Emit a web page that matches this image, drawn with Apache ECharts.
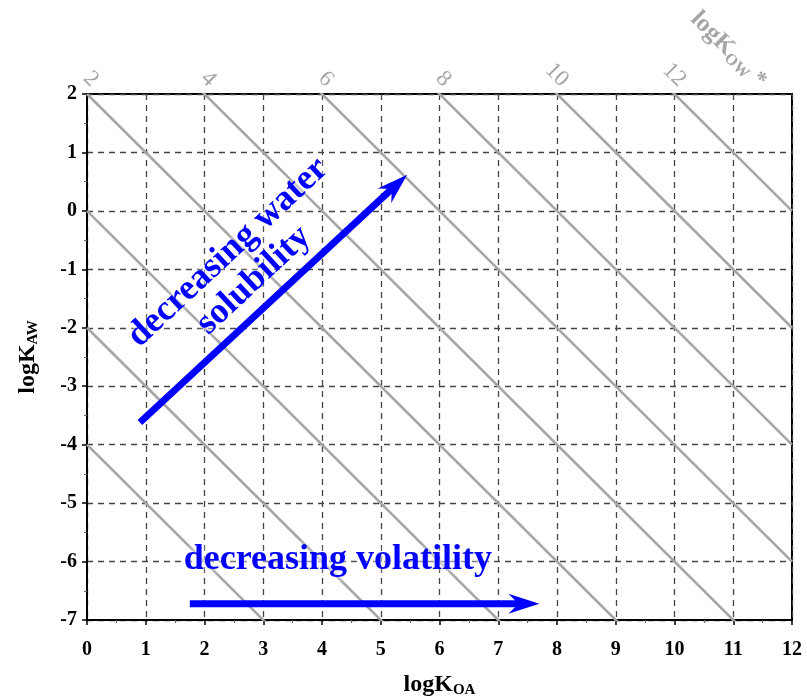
<!DOCTYPE html>
<html><head><meta charset="utf-8">
<script src="https://cdn.jsdelivr.net/npm/echarts@6/dist/echarts.min.js"></script>
<style>html,body{margin:0;padding:0;background:#fff}#c{width:807px;height:700px}</style>
</head><body><div id="c"></div>
<script>
// ---- data ----
const xTicks = [0,1,2,3,4,5,6,7,8,9,10,11,12];      // logKOA
const yTicks = [-7,-6,-5,-4,-3,-2,-1,0,1,2];        // logKAW
const isoKow = [-4,-2,0,2,4,6,8,10,12];             // logKOW iso-lines (logKOW = logKOA + logKAW)
const topKowLabels = [2,4,6,8,10,12];               // labelled logKOW values along top edge
const arrowSolubility = [0.9,-3.62,5.45,0.62];      // [x1,y1,x2,y2]
const arrowVolatility = [1.75,-6.72,7.7,-6.72];
const textSolubilityPos = [2.62,-0.95];
const textVolatilityPos = [4.27,-5.97];
const kowTitlePos = [11.3,2];

const serif = "'Liberation Serif', 'DejaVu Serif', serif";
const grey = '#a6a6a6';
const blue = '#0000ff';
const xMin = xTicks[0], xMax = xTicks[xTicks.length-1];
const yMin = yTicks[0], yMax = yTicks[yTicks.length-1];

const isoSeries = isoKow.map(k => ({
  type:'line', data:[[xMin, k - xMin],[xMax, k - xMax]], symbol:'none', clip:true,
  lineStyle:{color:grey, width:2.6}, silent:true, z:3, animation:false
}));

const nameRich = {a:{fontFamily:serif,fontWeight:'bold',fontSize:24,color:'#000'},
                  b:{fontFamily:serif,fontWeight:'bold',fontSize:15,color:'#000',verticalAlign:'bottom',padding:[11,0,0,0]}};

function renderArrow(params, api){
  const p1 = api.coord([api.value(0), api.value(1)]);
  const p2 = api.coord([api.value(2), api.value(3)]);
  const dx = p2[0]-p1[0], dy = p2[1]-p1[1], L = Math.hypot(dx,dy);
  const ux = dx/L, uy = dy/L, nx = -uy, ny = ux;
  const headLen = 31, halfW = 10, notch = 21;
  const bx = p2[0]-ux*headLen, by = p2[1]-uy*headLen;
  const qx = p2[0]-ux*notch, qy = p2[1]-uy*notch;
  return {type:'group', children:[
    {type:'line', shape:{x1:p1[0], y1:p1[1], x2:qx+ux*2, y2:qy+uy*2}, style:{stroke:blue, lineWidth:7}},
    {type:'polygon', shape:{points:[[p2[0],p2[1]],[bx+nx*halfW,by+ny*halfW],[qx,qy],[bx-nx*halfW,by-ny*halfW]]}, style:{fill:blue}}
  ]};
}

const chart = echarts.init(document.getElementById('c'));
chart.setOption({
  animation:false,
  grid:{left:87, right:15, top:94, bottom:80, outerBoundsMode:'none', containLabel:false,
        show:true, borderColor:'#000', borderWidth:2, backgroundColor:'transparent'},
  xAxis:{type:'value', min:xMin, max:xMax, interval:1,
    name:'{a|logK}{b|OA}', nameLocation:'middle', nameGap:52,
    nameTextStyle:{rich:nameRich},
    axisLine:{show:true, onZero:false, lineStyle:{color:'#000', width:2}},
    axisTick:{show:true, length:5, lineStyle:{color:'#000', width:1.5}},
    minorTick:{show:true, splitNumber:2, length:3, lineStyle:{color:'#666', width:1}},
    axisLabel:{fontFamily:serif, fontWeight:'bold', fontSize:20, color:'#000', margin:20},
    splitLine:{show:true, lineStyle:{color:'#444', width:1.3, type:[6,5]}}
  },
  yAxis:{type:'value', min:yMin, max:yMax, interval:1,
    name:'{a|logK}{b|AW}', nameLocation:'middle', nameGap:46, nameRotate:90,
    nameTextStyle:{rich:nameRich},
    axisLine:{show:true, onZero:false, lineStyle:{color:'#000', width:2}},
    axisTick:{show:true, length:5, lineStyle:{color:'#000', width:1.5}},
    minorTick:{show:true, splitNumber:2, length:3, lineStyle:{color:'#666', width:1}},
    axisLabel:{fontFamily:serif, fontWeight:'bold', fontSize:20, color:'#000', margin:10},
    splitLine:{show:true, lineStyle:{color:'#444', width:1.3, type:[6,5]}}
  },
  series:[
    ...isoSeries,
    {type:'custom', silent:true, z:8, clip:false, renderItem:renderArrow,
      data:[arrowSolubility, arrowVolatility]},
    {type:'scatter', symbolSize:0, silent:true, z:9, itemStyle:{opacity:1},
      data:[{value:textSolubilityPos, name:'decreasing water\nsolubility'},
            {value:textVolatilityPos, name:'decreasing volatility'}],
      label:{show:true, position:'inside', formatter:p=>p.name, opacity:1,
        fontFamily:serif, fontWeight:'bold', fontSize:36, lineHeight:38, color:blue,
        textShadowColor:'#fff', textShadowBlur:8},
      labelLayout:function(p){ return p.dataIndex===0 ? {rotate:43} : {}; }
    }
  ]
});

// top logKOW labels placed through the axes' scales
const px = v => chart.convertToPixel({xAxisIndex:0, yAxisIndex:0}, v);
const graphics = topKowLabels.map(k => {
  const p = px([k - yMax, yMax]);
  return {type:'text', x:p[0]+8, y:p[1]-11, rotation:-Math.PI/4, z:10,
    style:{text:String(k), fill:grey, fontFamily:serif, fontSize:23, align:'right', verticalAlign:'middle'}};
});
const tp = px(kowTitlePos);
graphics.push({type:'text', x:tp[0]+12, y:tp[1]-10, rotation:-Math.PI/4, z:10,
  style:{text:'{a|logK}{b|OW}{c| *}', align:'right', verticalAlign:'middle',
    rich:{a:{fontFamily:serif,fontWeight:'bold',fontSize:25,fill:grey,color:grey},
          b:{fontFamily:serif,fontWeight:'bold',fontSize:16,fill:grey,color:grey,verticalAlign:'bottom',padding:[12,0,0,0]},
          c:{fontFamily:serif,fontWeight:'bold',fontSize:23,fill:grey,color:grey}}}});
chart.setOption({graphic:graphics});
</script></body></html>
